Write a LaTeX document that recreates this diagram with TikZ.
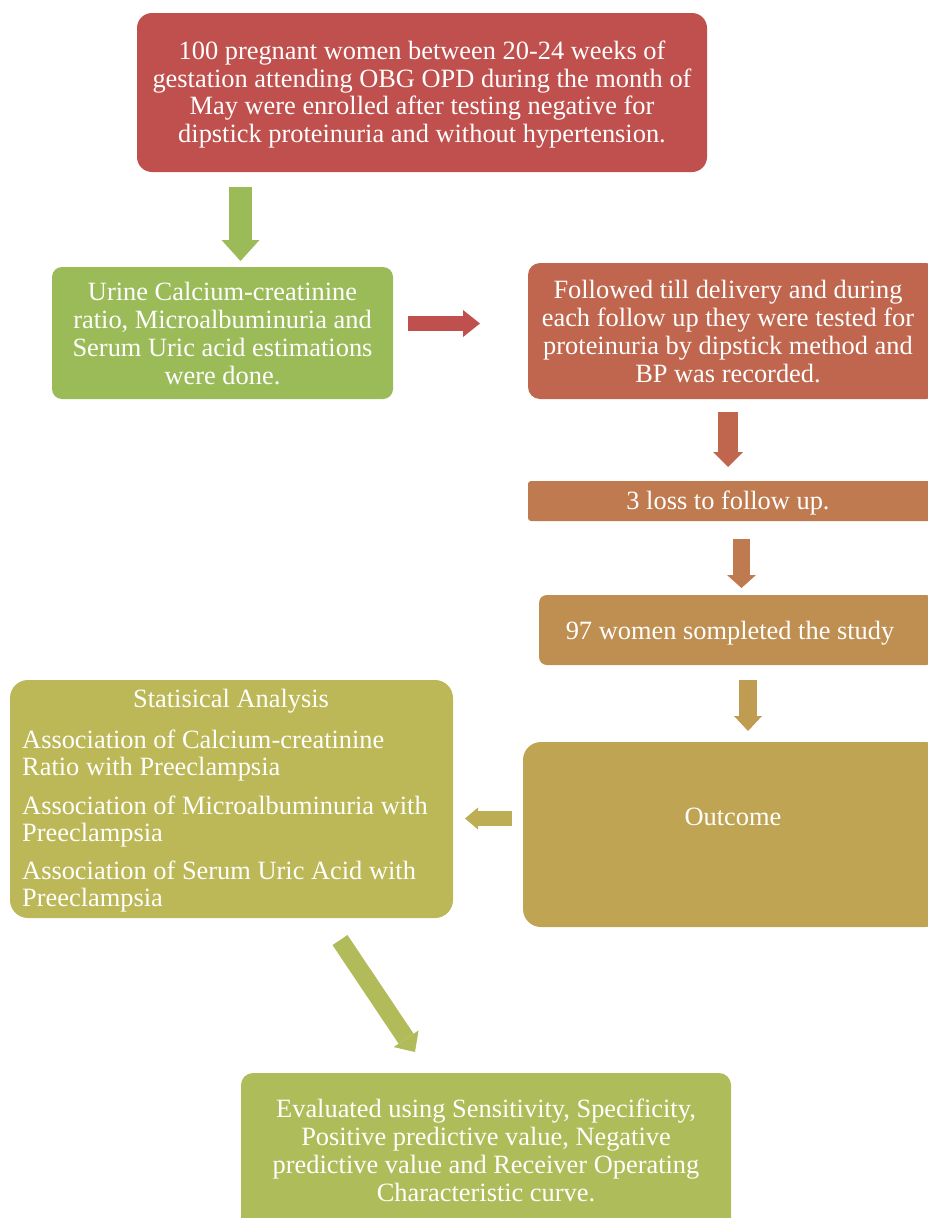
\documentclass[tikz,border=0pt]{standalone}
\usepackage{fontspec}
\setmainfont{Liberation Serif}
\usetikzlibrary{arrows.meta}
\definecolor{cRed}{HTML}{C0504D}
\definecolor{cGreen}{HTML}{9BBB59}
\definecolor{cRust}{HTML}{C0664E}
\definecolor{cOrange}{HTML}{BF7B4F}
\definecolor{cTan}{HTML}{BF8F51}
\definecolor{cGoldArrow}{HTML}{BF9C52}
\definecolor{cGold}{HTML}{BFA453}
\definecolor{cOliveArrow}{HTML}{BDAD55}
\definecolor{cOlive}{HTML}{BDB857}
\definecolor{cLimeArrow}{HTML}{B2BB59}
\definecolor{cLime}{HTML}{AEBD59}
\tikzset{
  txt/.style={font=\fontsize{26.4}{27.8}\selectfont, text=white, inner sep=0pt, yshift=-2.5pt},
  box/.style={inner sep=0pt, rounded corners=#1},
  box/.default=15pt,
  barrow/.style n args={3}{line width=#1, -{Triangle[line width=0pt, width=#2 0 0, length=#3 0 0]}},
}
\begin{document}
\begin{tikzpicture}[x=1pt,y=-1pt]
\useasboundingbox (0,0) rectangle (928,1218);
\begin{scope}
\clip (0,0) rectangle (928,1218);
% boxes
\node[box, fill=cRed, minimum width=570pt, minimum height=159pt] (n1) at (422,92.5) {};
\node[txt, align=center] (t1) at (422,92)
  {100 pregnant women between 20-24 weeks of\\gestation attending OBG OPD during the month of\\May were enrolled after testing negative for\\dipstick proteinuria and without hypertension.};
\node[box=10pt, fill=cGreen, minimum width=341pt, minimum height=132pt] (n2) at (222.5,333) {};
\node[txt, align=center] (t2) at (222.5,331)
  {Urine Calcium-creatinine\\ratio, Microalbuminuria and\\Serum Uric acid estimations\\were done.};
\node[box=12pt, fill=cRust, minimum width=410pt, minimum height=136pt] (n3) at (733,331) {};
\node[txt, align=center] (t3) at (728,329)
  {Followed till delivery and during\\each follow up they were tested for\\proteinuria by dipstick method and\\BP was recorded.};
\node[box=3pt, fill=cOrange, minimum width=405pt, minimum height=40pt] (n4) at (730.5,501) {};
\node[txt] (t4) at (728,501) {3 loss to follow up.};
\node[box=8pt, fill=cTan, minimum width=395pt, minimum height=70pt] (n5) at (736.5,630) {};
\node[txt] (t5) at (730,630.5) {97 women sompleted the study};
\node[box=18pt, fill=cGold, minimum width=420pt, minimum height=185pt] (n6) at (733,834.5) {};
\node[txt] (t6) at (733,814.5) {Outcome};
\node[box=18pt, fill=cOlive, minimum width=443pt, minimum height=238pt] (n7) at (231.5,799) {};
\node[txt] (t7a) at (231,699) {Statisical Analysis};
\node[txt, align=left, anchor=west] (t7b) at (22,753) {Association of Calcium-creatinine\\Ratio with Preeclampsia};
\node[txt, align=left, anchor=west] (t7c) at (22,819) {Association of Microalbuminuria with\\Preeclampsia};
\node[txt, align=left, anchor=west] (t7d) at (22,884) {Association of Serum Uric Acid with\\Preeclampsia};
\node[box=12pt, fill=cLime, minimum width=490pt, minimum height=160pt] (n8) at (486,1153) {};
\node[txt, align=center] (t8) at (486,1148)
  {Evaluated using Sensitivity, Specificity,\\Positive predictive value, Negative\\predictive value and Receiver Operating\\Characteristic curve.};
\end{scope}
% arrow end points
\coordinate (a1s) at (240.5,187); \coordinate (a1e) at (240.5,261);
\coordinate (a2s) at (408,323.5); \coordinate (a2e) at (480,323.5);
\coordinate (a3s) at (728,412);   \coordinate (a3e) at (728,467);
\coordinate (a4s) at (741.5,539); \coordinate (a4e) at (741.5,588);
\coordinate (a5s) at (748,680);   \coordinate (a5e) at (748,731);
\coordinate (a6s) at (512,818.5); \coordinate (a6e) at (465,818.5);
\coordinate (a7s) at (340,940);   \coordinate (a7e) at (415,1052);
\draw[barrow={23pt}{38pt}{21pt}, cGreen] (a1s) -- (a1e);
\draw[barrow={15pt}{27pt}{17pt}, cRed] (a2s) -- (a2e);
\draw[barrow={20pt}{30pt}{15pt}, cRust] (a3s) -- (a3e);
\draw[barrow={17pt}{29pt}{13pt}, cOrange] (a4s) -- (a4e);
\draw[barrow={18pt}{28pt}{15pt}, cGoldArrow] (a5s) -- (a5e);
\draw[barrow={15pt}{22pt}{13pt}, cOliveArrow] (a6s) -- (a6e);
\draw[barrow={18pt}{30pt}{16pt}, cLimeArrow] (a7s) -- (a7e);
\end{tikzpicture}
\end{document}
